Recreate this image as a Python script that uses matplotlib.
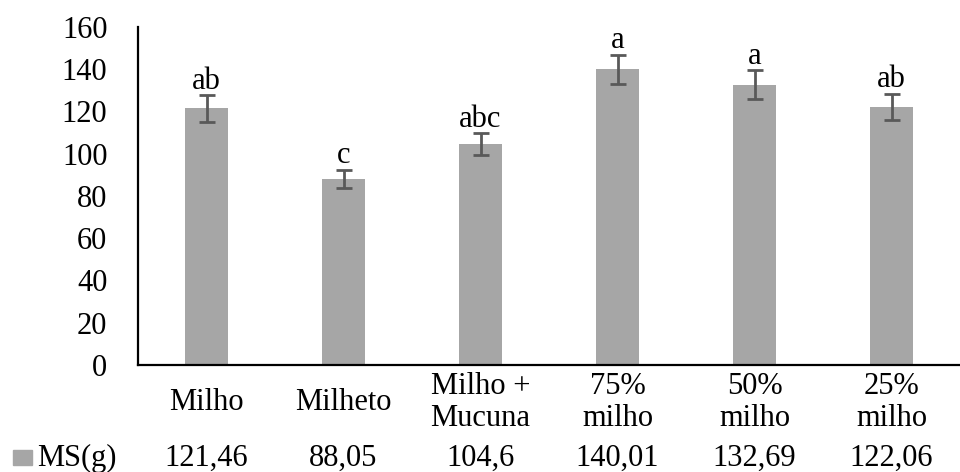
import matplotlib
matplotlib.use("Agg")
import matplotlib.pyplot as plt
from matplotlib.patches import Rectangle
from matplotlib.transforms import blended_transform_factory

categories = ["Milho", "Milheto", "Milho +\nMucuna", "75%\nmilho", "50%\nmilho", "25%\nmilho"]
ms_values = [121.46, 88.05, 104.6, 140.01, 132.69, 122.06]
ms_labels = ["121,46", "88,05", "104,6", "140,01", "132,69", "122,06"]
ms_errors = [6.2, 4.3, 5.1, 6.9, 6.9, 6.2]
letters = ["ab", "c", "abc", "a", "a", "ab"]
series_name = "MS(g)"
y_ticks = [0, 20, 40, 60, 80, 100, 120, 140, 160]

plt.rcParams["font.family"] = ["Liberation Serif", "DejaVu Serif"]
FS = 22
bar_color = "#a6a6a6"
err_color = "#595959"

fig = plt.figure(figsize=(9.6, 4.72), dpi=100)
ax = fig.add_axes([0.14375, 0.2267, 0.85625, 0.7161])

x = list(range(len(categories)))
ax.bar(x, ms_values, width=0.31, color=bar_color, zorder=2)
ax.errorbar(x, ms_values, yerr=ms_errors, fmt="none", ecolor=err_color,
            elinewidth=2, capsize=6, capthick=2, zorder=3)

for xi, v, e, t in zip(x, ms_values, ms_errors, letters):
    ax.text(xi, v + e - 0.2, t, ha="center", va="bottom", fontsize=FS, color="black")

ax.set_xlim(-0.5, len(categories) - 0.5)
ax.set_ylim(0, 160)
ax.set_yticks(y_ticks)
ax.set_yticklabels([str(t) for t in y_ticks], fontsize=FS)
ax.set_xticks(x)
ax.set_xticklabels(categories, fontsize=FS, va="center", linespacing=1.12)
ax.tick_params(axis="y", length=0, pad=22)
ax.tick_params(axis="x", length=0, pad=27)

for side in ("top", "right"):
    ax.spines[side].set_visible(False)
for side in ("left", "bottom"):
    ax.spines[side].set_color("black")
    ax.spines[side].set_linewidth(1.6)

# data table row below the category labels
row_y_fig = (472 - 458) / 472
row_tf = blended_transform_factory(ax.transData, fig.transFigure)
for xi, lab in zip(x, ms_labels):
    ax.text(xi, row_y_fig, lab, fontsize=FS, ha="center", va="center",
            transform=row_tf, clip_on=False)

fig.patches.append(Rectangle((13 / 960, (472 - 465) / 472), 19 / 960, 15 / 472,
                             transform=fig.transFigure, color=bar_color))
fig.text(37 / 960, row_y_fig, series_name, fontsize=FS, ha="left", va="center")

fig.savefig("out.png", dpi=100)
